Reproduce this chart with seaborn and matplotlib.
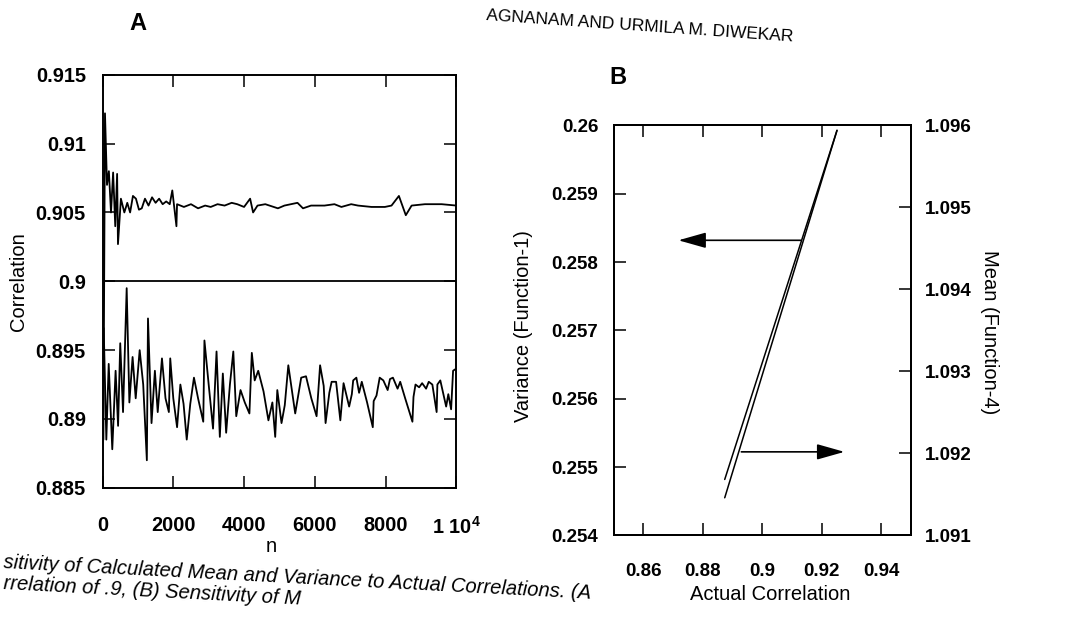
import matplotlib
matplotlib.use("Agg")
import pandas as pd
import matplotlib.pyplot as plt
import seaborn as sns

# --- values ---

# Panel A: calculated correlation vs number of samples n (target .9)
n_upper = [25, 70, 127, 180, 240, 300, 360, 413, 437, 520, 617, 700, 780, 860,
           945, 1030, 1109, 1200, 1300, 1400, 1500, 1600, 1700, 1800, 1900,
           1972, 2089, 2106, 2300, 2500, 2700, 2900, 3057, 3250, 3450, 3650,
           3807, 4000, 4171, 4255, 4380, 4600, 4956, 5140, 5509, 5665, 5893,
           6272, 6553, 6750, 7026, 7220, 7601, 7978, 8166, 8375, 8570, 8734,
           9111, 9583, 10000]
corr_upper = [0.8885, 0.9122, 0.9070, 0.9080, 0.9050, 0.9079, 0.9040, 0.9078,
              0.9027, 0.9060, 0.9050, 0.9057, 0.9050, 0.9062, 0.9060, 0.9052,
              0.9053, 0.9060, 0.9055, 0.9061, 0.9057, 0.9060, 0.9056, 0.9058,
              0.9056, 0.9066, 0.9040, 0.9056, 0.9054, 0.9056, 0.9053, 0.9055,
              0.9054, 0.9056, 0.9055, 0.9057, 0.9056, 0.9054, 0.9060, 0.9050,
              0.9055, 0.9056, 0.9053, 0.9055, 0.9057, 0.9053, 0.9055, 0.9055,
              0.9056, 0.9054, 0.9056, 0.9055, 0.9054, 0.9054, 0.9055, 0.9062,
              0.9048, 0.9055, 0.9056, 0.9056, 0.9055]

n_lower = [34, 108, 175, 276, 370, 440, 501, 580, 683, 759, 850, 938, 1050,
           1150, 1253, 1285, 1385, 1480, 1560, 1680, 1780, 1875, 1914, 2000,
           2107, 2200, 2290, 2380, 2480, 2584, 2700, 2847, 2880, 3000, 3123,
           3222, 3315, 3400, 3494, 3600, 3696, 3779, 3900, 4020, 4151, 4219,
           4300, 4400, 4550, 4688, 4800, 4880, 4939, 5058, 5150, 5250, 5445,
           5614, 5750, 5900, 6049, 6148, 6250, 6303, 6409, 6474, 6600, 6720,
           6811, 6969, 7045, 7083, 7173, 7250, 7326, 7476, 7637, 7662, 7742,
           7832, 7935, 8057, 8123, 8206, 8337, 8412, 8552, 8757, 8787, 8844,
           8947, 9031, 9143, 9218, 9320, 9441, 9462, 9545, 9710, 9771, 9850,
           9906, 9960]
corr_lower = [0.8966, 0.8885, 0.8940, 0.8878, 0.8935, 0.8895, 0.8955, 0.8905,
              0.8995, 0.8912, 0.8945, 0.8915, 0.8950, 0.8925, 0.8870, 0.8973,
              0.8897, 0.8935, 0.8905, 0.8944, 0.8915, 0.8905, 0.8944, 0.8915,
              0.8894, 0.8925, 0.8911, 0.8885, 0.8911, 0.8930, 0.8915, 0.8898,
              0.8957, 0.8925, 0.8893, 0.8949, 0.8887, 0.8933, 0.8890, 0.8925,
              0.8949, 0.8902, 0.8921, 0.8912, 0.8904, 0.8948, 0.8928, 0.8935,
              0.8920, 0.8899, 0.8912, 0.8887, 0.8921, 0.8897, 0.8910, 0.8939,
              0.8904, 0.8930, 0.8931, 0.8915, 0.8902, 0.8939, 0.8924, 0.8897,
              0.8919, 0.8927, 0.8927, 0.8899, 0.8926, 0.8909, 0.8918, 0.8928,
              0.8930, 0.8919, 0.8927, 0.8912, 0.8894, 0.8913, 0.8917, 0.8930,
              0.8928, 0.8921, 0.8929, 0.8930, 0.8922, 0.8927, 0.8915, 0.8898,
              0.8916, 0.8925, 0.8923, 0.8926, 0.8922, 0.8927, 0.8925, 0.8905,
              0.8925, 0.8928, 0.8909, 0.8918, 0.8907, 0.8935, 0.8936]
target_corr = 0.9

x_ticks_a = [0, 2000, 4000, 6000, 8000, 10000]
x_labels_a = ["0", "2000", "4000", "6000", "8000", r"1 10$^{4}$"]
y_ticks_a = [0.885, 0.89, 0.895, 0.9, 0.905, 0.91, 0.915]
y_labels_a = ["0.885", "0.89", "0.895", "0.9", "0.905", "0.91", "0.915"]

# Panel B: variance (Function-1) and mean (Function-4) vs actual correlation
actual_corr = [0.8874, 0.9252]
variance_f1 = [0.25482, 0.25993]
mean_f4 = [1.09146, 1.09594]

# arrows pointing to the axis each line belongs to
var_arrow_x = [0.9130, 0.8718]   # from, to
var_arrow_level = 0.25832
mean_arrow_x = [0.8930, 0.9277]
mean_arrow_level = 1.09202

x_ticks_b = [0.86, 0.88, 0.9, 0.92, 0.94]
x_labels_b = ["0.86", "0.88", "0.9", "0.92", "0.94"]
var_ticks = [0.254, 0.255, 0.256, 0.257, 0.258, 0.259, 0.26]
var_labels = ["0.254", "0.255", "0.256", "0.257", "0.258", "0.259", "0.26"]
mean_ticks = [1.091, 1.092, 1.093, 1.094, 1.095, 1.096]
mean_labels = ["1.091", "1.092", "1.093", "1.094", "1.095", "1.096"]

# --- style ---
sns.set_theme(style="ticks", rc={"axes.edgecolor": "black", "axes.linewidth": 1.4,
                                 "xtick.color": "black", "ytick.color": "black",
                                 "text.color": "black", "axes.labelcolor": "black"})
plt.rcParams["font.family"] = ["Liberation Sans", "DejaVu Sans"]
plt.rcParams["mathtext.fontset"] = "custom"
plt.rcParams["mathtext.rm"] = "Liberation Sans"
plt.rcParams["mathtext.bf"] = "Liberation Sans:bold"
plt.rcParams["mathtext.default"] = "bf"

fig = plt.figure(figsize=(10.79, 6.17), dpi=100)
ax_a = fig.add_axes([0.095, 0.2094, 0.328, 0.6694])
ax_b = fig.add_axes([0.5687, 0.1321, 0.2753, 0.6645])

# --- panel A ---
df_upper = pd.DataFrame({"n": n_upper, "corr": corr_upper})
df_lower = pd.DataFrame({"n": n_lower, "corr": corr_lower})
sns.lineplot(data=df_upper, x="n", y="corr", ax=ax_a, color="black", lw=1.3,
             estimator=None, sort=False)
sns.lineplot(data=df_lower, x="n", y="corr", ax=ax_a, color="black", lw=1.3,
             estimator=None, sort=False)
ax_a.axhline(target_corr, color="black", lw=1.3)

ax_a.set_xlim(0, 10000)
ax_a.set_ylim(0.885, 0.915)
ax_a.set_xticks(x_ticks_a)
ax_a.set_xticklabels(x_labels_a, fontsize=14.4, fontweight="bold")
ax_a.set_yticks(y_ticks_a)
ax_a.set_yticklabels(y_labels_a, fontsize=14.4, fontweight="bold")
ax_a.tick_params(direction="in", length=8.5, width=1.1, top=True, right=True)
ax_a.tick_params(axis="x", pad=20)
ax_a.tick_params(axis="y", pad=12)
ax_a.set_ylabel("Correlation", fontsize=14.5, va="center")
ax_a.yaxis.set_label_coords(-0.237, 0.5)
ax_a.set_xlabel("n", fontsize=14.5, va="center")
ax_a.xaxis.set_label_coords(0.476, -0.143)

# --- panel B ---
sns.lineplot(x=actual_corr, y=variance_f1, ax=ax_b, color="black", lw=1.1)
ax_b.set_xlim(0.85, 0.95)
ax_b.set_ylim(0.254, 0.26)
ax_mean = ax_b.twinx()
sns.lineplot(x=actual_corr, y=mean_f4, ax=ax_mean, color="black", lw=1.1)
ax_mean.set_ylim(1.091, 1.096)

arrow_props = dict(arrowstyle="-|>,head_length=0.85,head_width=0.24",
                   color="black", lw=1.2, mutation_scale=20, shrinkA=0, shrinkB=0)
ax_b.annotate("", xy=(var_arrow_x[1], var_arrow_level),
              xytext=(var_arrow_x[0], var_arrow_level), arrowprops=arrow_props)
ax_mean.annotate("", xy=(mean_arrow_x[1], mean_arrow_level),
                 xytext=(mean_arrow_x[0], mean_arrow_level), arrowprops=arrow_props)

ax_b.set_xticks(x_ticks_b)
ax_b.set_xticklabels(x_labels_b, fontsize=13.5, fontweight="bold")
ax_b.set_yticks(var_ticks)
ax_b.set_yticklabels(var_labels, fontsize=13.5, fontweight="bold")
ax_b.tick_params(direction="in", length=8.5, width=1.1, top=True, right=False)
ax_b.tick_params(axis="x", pad=20)
ax_b.tick_params(axis="y", pad=11)
ax_mean.set_yticks(mean_ticks)
ax_mean.set_yticklabels(mean_labels, fontsize=13.5, fontweight="bold")
ax_mean.tick_params(direction="in", length=8.5, width=1.1, pad=10)

ax_b.set_xlabel("Actual Correlation", fontsize=14.5, va="center")
ax_b.xaxis.set_label_coords(0.527, -0.144)
ax_b.set_ylabel("Variance (Function-1)", fontsize=14.5, va="center")
ax_b.yaxis.set_label_coords(-0.305, 0.512)
ax_mean.set_ylabel("Mean (Function-4)", fontsize=14.5, rotation=270, va="center")
ax_mean.yaxis.set_label_coords(1.266, 0.496)

# panel letters, running head and the caption fragment of the page
fig.text(138 / 1079, 1 - 23 / 617, "A", fontsize=17, fontweight="bold",
         ha="center", va="center")
fig.text(618 / 1079, 1 - 78 / 617, "B", fontsize=17, fontweight="bold",
         ha="center", va="center")
fig.text(793 / 1079, 1 - 37 / 617, "AGNANAM AND URMILA M. DIWEKAR", fontsize=12.5,
         ha="right", va="center", rotation=-4.0, rotation_mode="anchor")
fig.text(0.003, 1 - 563 / 617,
         "sitivity of Calculated Mean and Variance to Actual Correlations. (A",
         fontsize=14.5, style="italic", ha="left", va="center", rotation=-3.0,
         rotation_mode="anchor")
fig.text(0.003, 1 - 584 / 617,
         "rrelation of .9, (B) Sensitivity of M",
         fontsize=14.5, style="italic", ha="left", va="center", rotation=-3.0,
         rotation_mode="anchor")

fig.savefig("out.png", dpi=100)
